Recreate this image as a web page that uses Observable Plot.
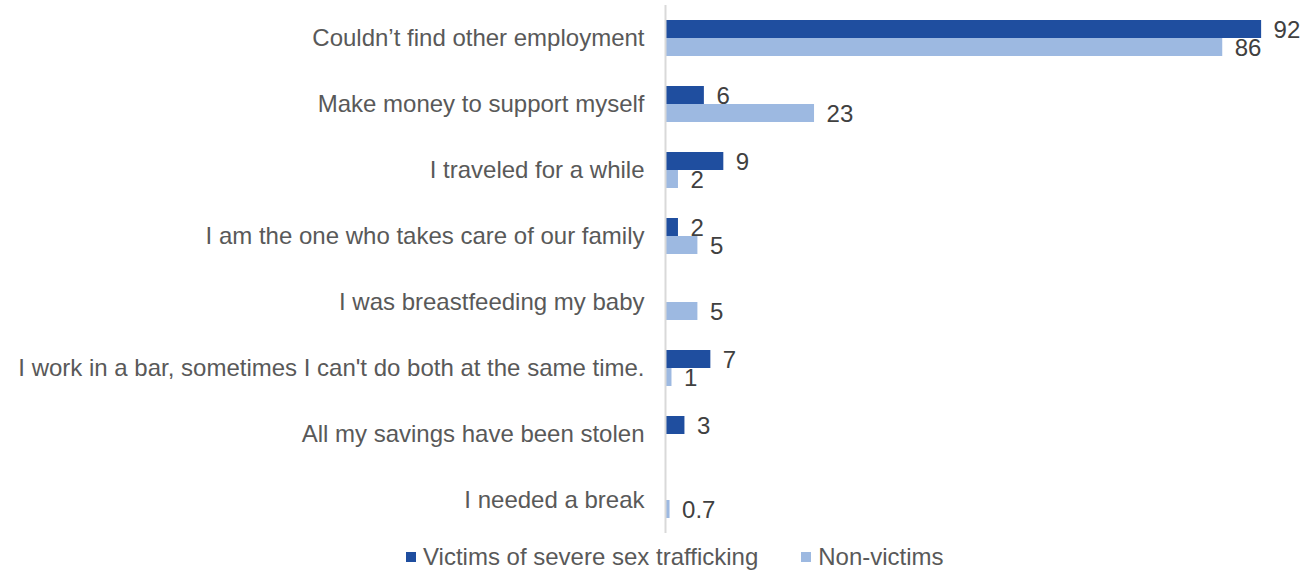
<!DOCTYPE html>
<html>
<head>
<meta charset="utf-8">
<script src="https://cdn.jsdelivr.net/npm/d3@7"></script>
<script src="https://cdn.jsdelivr.net/npm/@observablehq/plot@0.6"></script>
<style>
  html, body { margin: 0; padding: 0; background: #fff; }
  body { width: 1308px; height: 577px; overflow: hidden; font-family: "Liberation Sans", Arial, sans-serif; }
  #legend { position: relative; height: 40px; display: flex; align-items: center; padding-left: 406px; color: #595959; font-size: 24px; }
  .item { display: flex; align-items: center; margin-right: 43px; }
  .sw { width: 10px; height: 10px; margin-right: 7px; }
</style>
</head>
<body>
<div id="chart"></div>
<div id="legend"></div>
<script>
const categories = [
  "Couldn’t find other employment",
  "Make money to support myself",
  "I traveled for a while",
  "I am the one who takes care of our family",
  "I was breastfeeding my baby",
  "I work in a bar, sometimes I can't do both at the same time.",
  "All my savings have been stolen",
  "I needed a break"
];
const seriesNames = ["Victims of severe sex trafficking", "Non-victims"];
const victims = [92, 6, 9, 2, null, 7, 3, null];
const nonVictims = [86, 23, 2, 5, 5, 1, null, 0.7];
const colors = ["#1f4e9f", "#9db9e1"];

const data = categories.flatMap((c, i) => [
  {category: c, series: seriesNames[0], value: victims[i]},
  {category: c, series: seriesNames[1], value: nonVictims[i]}
]).filter(d => d.value != null);

const chart = Plot.plot({
  width: 1308,
  height: 537,
  marginLeft: 665,
  marginRight: 8,
  marginTop: 3,
  marginBottom: 2,
  style: {fontFamily: "'Liberation Sans', Arial, sans-serif", background: "#fff"},
  x: {domain: [0, 98], axis: null},
  y: {domain: seriesNames, axis: null, paddingInner: 0, paddingOuter: 0.833},
  fy: {domain: categories, padding: 0, axis: null},
  color: {domain: seriesNames, range: colors},
  marks: [
    Plot.barX(data, {x: "value", y: "series", fy: "category", fill: "series"}),
    Plot.text(data, {x: "value", y: "series", fy: "category", text: d => String(d.value), dx: 12, dy: 1, textAnchor: "start", fill: "#404040", fontSize: 24}),
    Plot.ruleX([0], {stroke: "#d9d9d9", strokeWidth: 2}),
    Plot.axisFy({anchor: "left", tickSize: 0, tickPadding: 21, fontSize: 24, fill: "#595959", label: null})
  ]
});
document.getElementById("chart").appendChild(chart);

const legend = document.getElementById("legend");
seriesNames.forEach((s, i) => {
  const item = document.createElement("div");
  item.className = "item";
  const sw = document.createElement("div");
  sw.className = "sw";
  sw.style.background = colors[i];
  const t = document.createElement("span");
  t.textContent = s;
  item.appendChild(sw);
  item.appendChild(t);
  legend.appendChild(item);
});
</script>
</body>
</html>
